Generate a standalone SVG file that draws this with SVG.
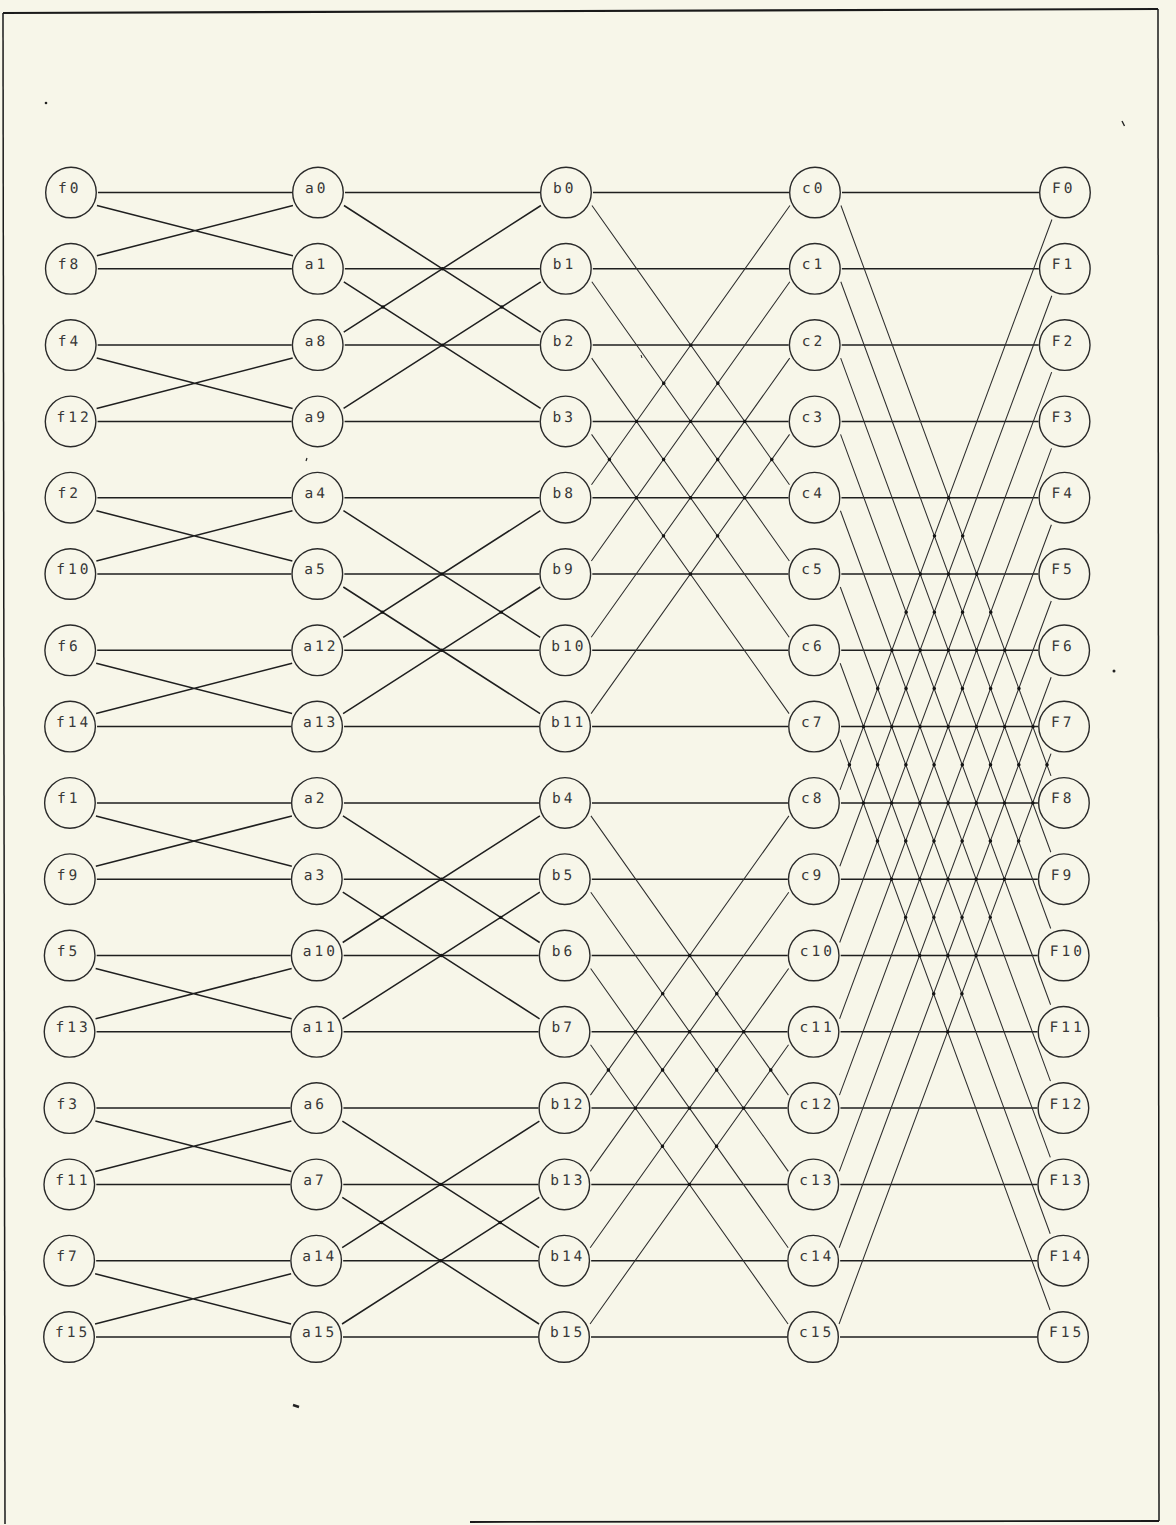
<svg xmlns="http://www.w3.org/2000/svg" width="1176" height="1525" viewBox="0 0 1176 1525">
<style>
.n circle{fill:none;stroke:#2a2a2a;stroke-width:1.4}
.n text{font-family:"DejaVu Sans Mono","Liberation Mono",monospace;font-size:14.5px;letter-spacing:3px;fill:#383838}
.h{fill:none;stroke:#1f1f1f;stroke-width:1.5}
.d1{fill:none;stroke:#1f1f1f;stroke-width:1.5}
.d3{fill:none;stroke:#2e2e2e;stroke-width:1.05}
.dots{fill:none;stroke:#141414;stroke-width:3.4;stroke-linecap:round}
.frame{fill:none;stroke:#1a1a1a}
</style>
<rect x="0" y="0" width="1176" height="1525" fill="#f7f6e9"/>
<g id="frame" class="frame">
<path d="M3 13 L1158 9" stroke-width="2.2"/>
<path d="M3 13 L5 1524" stroke-width="1.5"/>
<path d="M1158 9 L1159 1521" stroke-width="1.5"/>
<path d="M470 1522 L1159 1521" stroke-width="1.8"/>
</g>
<g id="marks" fill="#222" stroke="#222">
<circle cx="46" cy="103" r="1.3" stroke="none"/>
<path d="M1122 121 l2.5 5" stroke-width="1.4" fill="none"/>
<path d="M306 461 l1 -3" stroke-width="1.2" fill="none"/>
<path d="M293 1405 l6 2" stroke-width="2.4" fill="none"/>
<circle cx="1114" cy="671" r="1.5" stroke="none"/>
<path d="M641 355 l1 3" stroke-width="1" fill="none"/>
</g>
<g transform="matrix(1 0 -0.0017 1 1.3 0)">
<g id="connectors">
<g id="stage1">
<path class="h" d="M97 192.5H291M97 268.8H291M97 345.1H291M97 421.4H291M97 497.7H291M97 574H291M97 650.3H291M97 726.6H291M97 802.9H291M97 879.2H291M97 955.5H291M97 1031.8H291M97 1108.1H291M97 1184.4H291M97 1260.7H291M97 1337H291"/>
<path class="d1" d="M96 205.5L292 255.8M96 255.8L292 205.5M96 358.1L292 408.4M96 408.4L292 358.1M96 510.7L292 561M96 561L292 510.7M96 663.3L292 713.6M96 713.6L292 663.3M96 815.9L292 866.2M96 866.2L292 815.9M96 968.5L292 1018.8M96 1018.8L292 968.5M96 1121.1L292 1171.4M96 1171.4L292 1121.1M96 1273.7L292 1324M96 1324L292 1273.7"/>
</g>
<g id="stage2">
<path class="h" d="M344 192.5H539M344 268.8H539M344 345.1H539M344 421.4H539M344 497.7H539M344 574H539M344 650.3H539M344 726.6H539M344 802.9H539M344 879.2H539M344 955.5H539M344 1031.8H539M344 1108.1H539M344 1184.4H539M344 1260.7H539M344 1337H539"/>
<path class="d1" d="M343 205.5L540 332.1M343 332.1L540 205.5M343 281.8L540 408.4M343 408.4L540 281.8M343 510.7L540 637.3M343 637.3L540 510.7M343 587L540 713.6M343 713.6L540 587M343 815.9L540 942.5M343 942.5L540 815.9M343 892.2L540 1018.8M343 1018.8L540 892.2M343 1121.1L540 1247.7M343 1247.7L540 1121.1M343 1197.4L540 1324M343 1324L540 1197.4"/>
</g>
<g id="stage3">
<path class="h" d="M592 192.5H788M592 268.8H788M592 345.1H788M592 421.4H788M592 497.7H788M592 574H788M592 650.3H788M592 726.6H788M592 802.9H788M592 879.2H788M592 955.5H788M592 1031.8H788M592 1108.1H788M592 1184.4H788M592 1260.7H788M592 1337H788"/>
<path class="d3" d="M591 205.5L789 484.7M591 484.7L789 205.5M591 281.8L789 561M591 561L789 281.8M591 358.1L789 637.3M591 637.3L789 358.1M591 434.4L789 713.6M591 713.6L789 434.4M591 815.9L789 1095.1M591 1095.1L789 815.9M591 892.2L789 1171.4M591 1171.4L789 892.2M591 968.5L789 1247.7M591 1247.7L789 968.5M591 1044.8L789 1324M591 1324L789 1044.8"/>
</g>
<g id="stage4">
<path class="h" d="M841 192.5H1038M841 268.8H1038M841 345.1H1038M841 421.4H1038M841 497.7H1038M841 574H1038M841 650.3H1038M841 726.6H1038M841 802.9H1038M841 879.2H1038M841 955.5H1038M841 1031.8H1038M841 1108.1H1038M841 1184.4H1038M841 1260.7H1038M841 1337H1038"/>
<path class="d3" d="M840 205.5L1051 775.9M840 789.9L1051 219.5M840 281.8L1051 852.2M840 866.2L1051 295.8M840 358.1L1051 928.5M840 942.5L1051 372.1M840 434.4L1051 1004.8M840 1018.8L1051 448.4M840 510.7L1051 1081.1M840 1095.1L1051 524.7M840 587L1051 1157.4M840 1171.4L1051 601M840 663.3L1051 1233.7M840 1247.7L1051 677.3M840 739.6L1051 1310M840 1324L1051 753.6"/>
</g>
<path id="junctions" class="dots" d="M441.5 268.8h0.2M441.5 345.1h0.2M500.9 306.95h0.2M382.1 306.95h0.2M441.5 574h0.2M441.5 650.3h0.2M500.9 612.15h0.2M382.1 612.15h0.2M441.5 879.2h0.2M441.5 955.5h0.2M500.9 917.35h0.2M382.1 917.35h0.2M441.5 1184.4h0.2M441.5 1260.7h0.2M500.9 1222.55h0.2M382.1 1222.55h0.2 M690 345.1h0.2M717.1 383.25h0.2M744.1 421.4h0.2M771.2 459.55h0.2M663 383.25h0.2M690 421.4h0.2M717.1 459.55h0.2M744.1 497.7h0.2M635.9 421.4h0.2M663 459.55h0.2M690 497.7h0.2M717.1 535.85h0.2M608.8 459.55h0.2M635.9 497.7h0.2M663 535.85h0.2M690 574h0.2 M690 955.5h0.2M717.1 993.65h0.2M744.1 1031.8h0.2M771.2 1069.95h0.2M663 993.65h0.2M690 1031.8h0.2M717.1 1069.95h0.2M744.1 1108.1h0.2M635.9 1031.8h0.2M663 1069.95h0.2M690 1108.1h0.2M717.1 1146.25h0.2M608.8 1069.95h0.2M635.9 1108.1h0.2M663 1146.25h0.2M690 1184.4h0.2 M948.1 497.7h0.2 M934 535.85h0.2M962.2 535.85h0.2 M919.9 574h0.2M948.1 574h0.2M976.3 574h0.2 M905.8 612.15h0.2M934 612.15h0.2M962.2 612.15h0.2M990.4 612.15h0.2 M891.6 650.3h0.2M919.9 650.3h0.2M948.1 650.3h0.2M976.3 650.3h0.2M1004.5 650.3h0.2 M877.5 688.45h0.2M905.8 688.45h0.2M934 688.45h0.2M962.2 688.45h0.2M990.4 688.45h0.2M1018.7 688.45h0.2 M863.4 726.6h0.2M891.6 726.6h0.2M919.9 726.6h0.2M948.1 726.6h0.2M976.3 726.6h0.2M1004.5 726.6h0.2M1032.8 726.6h0.2 M849.3 764.75h0.2M877.5 764.75h0.2M905.8 764.75h0.2M934 764.75h0.2M962.2 764.75h0.2M990.4 764.75h0.2M1018.7 764.75h0.2M1046.9 764.75h0.2 M863.4 802.9h0.2M891.6 802.9h0.2M919.9 802.9h0.2M948.1 802.9h0.2M976.3 802.9h0.2M1004.5 802.9h0.2M1032.8 802.9h0.2 M877.5 841.05h0.2M905.8 841.05h0.2M934 841.05h0.2M962.2 841.05h0.2M990.4 841.05h0.2M1018.7 841.05h0.2 M891.6 879.2h0.2M919.9 879.2h0.2M948.1 879.2h0.2M976.3 879.2h0.2M1004.5 879.2h0.2 M905.8 917.35h0.2M934 917.35h0.2M962.2 917.35h0.2M990.4 917.35h0.2 M919.9 955.5h0.2M948.1 955.5h0.2M976.3 955.5h0.2 M934 993.65h0.2M962.2 993.65h0.2 M948.1 1031.8h0.2"/>
</g>
<g id="nodes">
<g id="n-f0" class="n"><circle cx="70" cy="192.5" r="25.3"/><text x="57" y="193">f0</text></g>
<g id="n-f8" class="n"><circle cx="70" cy="268.8" r="25.3"/><text x="57" y="269.3">f8</text></g>
<g id="n-f4" class="n"><circle cx="70" cy="345.1" r="25.3"/><text x="57" y="345.6">f4</text></g>
<g id="n-f12" class="n"><circle cx="70" cy="421.4" r="25.3"/><text x="56" y="421.9">f12</text></g>
<g id="n-f2" class="n"><circle cx="70" cy="497.7" r="25.3"/><text x="57" y="498.2">f2</text></g>
<g id="n-f10" class="n"><circle cx="70" cy="574" r="25.3"/><text x="56" y="574.5">f10</text></g>
<g id="n-f6" class="n"><circle cx="70" cy="650.3" r="25.3"/><text x="57" y="650.8">f6</text></g>
<g id="n-f14" class="n"><circle cx="70" cy="726.6" r="25.3"/><text x="56" y="727.1">f14</text></g>
<g id="n-f1" class="n"><circle cx="70" cy="802.9" r="25.3"/><text x="57" y="803.4">f1</text></g>
<g id="n-f9" class="n"><circle cx="70" cy="879.2" r="25.3"/><text x="57" y="879.7">f9</text></g>
<g id="n-f5" class="n"><circle cx="70" cy="955.5" r="25.3"/><text x="57" y="956">f5</text></g>
<g id="n-f13" class="n"><circle cx="70" cy="1031.8" r="25.3"/><text x="56" y="1032.3">f13</text></g>
<g id="n-f3" class="n"><circle cx="70" cy="1108.1" r="25.3"/><text x="57" y="1108.6">f3</text></g>
<g id="n-f11" class="n"><circle cx="70" cy="1184.4" r="25.3"/><text x="56" y="1184.9">f11</text></g>
<g id="n-f7" class="n"><circle cx="70" cy="1260.7" r="25.3"/><text x="57" y="1261.2">f7</text></g>
<g id="n-f15" class="n"><circle cx="70" cy="1337" r="25.3"/><text x="56" y="1337.5">f15</text></g>
<g id="n-a0" class="n"><circle cx="317" cy="192.5" r="25.3"/><text x="304" y="193">a0</text></g>
<g id="n-a1" class="n"><circle cx="317" cy="268.8" r="25.3"/><text x="304" y="269.3">a1</text></g>
<g id="n-a8" class="n"><circle cx="317" cy="345.1" r="25.3"/><text x="304" y="345.6">a8</text></g>
<g id="n-a9" class="n"><circle cx="317" cy="421.4" r="25.3"/><text x="304" y="421.9">a9</text></g>
<g id="n-a4" class="n"><circle cx="317" cy="497.7" r="25.3"/><text x="304" y="498.2">a4</text></g>
<g id="n-a5" class="n"><circle cx="317" cy="574" r="25.3"/><text x="304" y="574.5">a5</text></g>
<g id="n-a12" class="n"><circle cx="317" cy="650.3" r="25.3"/><text x="303" y="650.8">a12</text></g>
<g id="n-a13" class="n"><circle cx="317" cy="726.6" r="25.3"/><text x="303" y="727.1">a13</text></g>
<g id="n-a2" class="n"><circle cx="317" cy="802.9" r="25.3"/><text x="304" y="803.4">a2</text></g>
<g id="n-a3" class="n"><circle cx="317" cy="879.2" r="25.3"/><text x="304" y="879.7">a3</text></g>
<g id="n-a10" class="n"><circle cx="317" cy="955.5" r="25.3"/><text x="303" y="956">a10</text></g>
<g id="n-a11" class="n"><circle cx="317" cy="1031.8" r="25.3"/><text x="303" y="1032.3">a11</text></g>
<g id="n-a6" class="n"><circle cx="317" cy="1108.1" r="25.3"/><text x="304" y="1108.6">a6</text></g>
<g id="n-a7" class="n"><circle cx="317" cy="1184.4" r="25.3"/><text x="304" y="1184.9">a7</text></g>
<g id="n-a14" class="n"><circle cx="317" cy="1260.7" r="25.3"/><text x="303" y="1261.2">a14</text></g>
<g id="n-a15" class="n"><circle cx="317" cy="1337" r="25.3"/><text x="303" y="1337.5">a15</text></g>
<g id="n-b0" class="n"><circle cx="565" cy="192.5" r="25.3"/><text x="552" y="193">b0</text></g>
<g id="n-b1" class="n"><circle cx="565" cy="268.8" r="25.3"/><text x="552" y="269.3">b1</text></g>
<g id="n-b2" class="n"><circle cx="565" cy="345.1" r="25.3"/><text x="552" y="345.6">b2</text></g>
<g id="n-b3" class="n"><circle cx="565" cy="421.4" r="25.3"/><text x="552" y="421.9">b3</text></g>
<g id="n-b8" class="n"><circle cx="565" cy="497.7" r="25.3"/><text x="552" y="498.2">b8</text></g>
<g id="n-b9" class="n"><circle cx="565" cy="574" r="25.3"/><text x="552" y="574.5">b9</text></g>
<g id="n-b10" class="n"><circle cx="565" cy="650.3" r="25.3"/><text x="551" y="650.8">b10</text></g>
<g id="n-b11" class="n"><circle cx="565" cy="726.6" r="25.3"/><text x="551" y="727.1">b11</text></g>
<g id="n-b4" class="n"><circle cx="565" cy="802.9" r="25.3"/><text x="552" y="803.4">b4</text></g>
<g id="n-b5" class="n"><circle cx="565" cy="879.2" r="25.3"/><text x="552" y="879.7">b5</text></g>
<g id="n-b6" class="n"><circle cx="565" cy="955.5" r="25.3"/><text x="552" y="956">b6</text></g>
<g id="n-b7" class="n"><circle cx="565" cy="1031.8" r="25.3"/><text x="552" y="1032.3">b7</text></g>
<g id="n-b12" class="n"><circle cx="565" cy="1108.1" r="25.3"/><text x="551" y="1108.6">b12</text></g>
<g id="n-b13" class="n"><circle cx="565" cy="1184.4" r="25.3"/><text x="551" y="1184.9">b13</text></g>
<g id="n-b14" class="n"><circle cx="565" cy="1260.7" r="25.3"/><text x="551" y="1261.2">b14</text></g>
<g id="n-b15" class="n"><circle cx="565" cy="1337" r="25.3"/><text x="551" y="1337.5">b15</text></g>
<g id="n-c0" class="n"><circle cx="814" cy="192.5" r="25.3"/><text x="801" y="193">c0</text></g>
<g id="n-c1" class="n"><circle cx="814" cy="268.8" r="25.3"/><text x="801" y="269.3">c1</text></g>
<g id="n-c2" class="n"><circle cx="814" cy="345.1" r="25.3"/><text x="801" y="345.6">c2</text></g>
<g id="n-c3" class="n"><circle cx="814" cy="421.4" r="25.3"/><text x="801" y="421.9">c3</text></g>
<g id="n-c4" class="n"><circle cx="814" cy="497.7" r="25.3"/><text x="801" y="498.2">c4</text></g>
<g id="n-c5" class="n"><circle cx="814" cy="574" r="25.3"/><text x="801" y="574.5">c5</text></g>
<g id="n-c6" class="n"><circle cx="814" cy="650.3" r="25.3"/><text x="801" y="650.8">c6</text></g>
<g id="n-c7" class="n"><circle cx="814" cy="726.6" r="25.3"/><text x="801" y="727.1">c7</text></g>
<g id="n-c8" class="n"><circle cx="814" cy="802.9" r="25.3"/><text x="801" y="803.4">c8</text></g>
<g id="n-c9" class="n"><circle cx="814" cy="879.2" r="25.3"/><text x="801" y="879.7">c9</text></g>
<g id="n-c10" class="n"><circle cx="814" cy="955.5" r="25.3"/><text x="800" y="956">c10</text></g>
<g id="n-c11" class="n"><circle cx="814" cy="1031.8" r="25.3"/><text x="800" y="1032.3">c11</text></g>
<g id="n-c12" class="n"><circle cx="814" cy="1108.1" r="25.3"/><text x="800" y="1108.6">c12</text></g>
<g id="n-c13" class="n"><circle cx="814" cy="1184.4" r="25.3"/><text x="800" y="1184.9">c13</text></g>
<g id="n-c14" class="n"><circle cx="814" cy="1260.7" r="25.3"/><text x="800" y="1261.2">c14</text></g>
<g id="n-c15" class="n"><circle cx="814" cy="1337" r="25.3"/><text x="800" y="1337.5">c15</text></g>
<g id="n-F0" class="n"><circle cx="1064" cy="192.5" r="25.3"/><text x="1051" y="193">F0</text></g>
<g id="n-F1" class="n"><circle cx="1064" cy="268.8" r="25.3"/><text x="1051" y="269.3">F1</text></g>
<g id="n-F2" class="n"><circle cx="1064" cy="345.1" r="25.3"/><text x="1051" y="345.6">F2</text></g>
<g id="n-F3" class="n"><circle cx="1064" cy="421.4" r="25.3"/><text x="1051" y="421.9">F3</text></g>
<g id="n-F4" class="n"><circle cx="1064" cy="497.7" r="25.3"/><text x="1051" y="498.2">F4</text></g>
<g id="n-F5" class="n"><circle cx="1064" cy="574" r="25.3"/><text x="1051" y="574.5">F5</text></g>
<g id="n-F6" class="n"><circle cx="1064" cy="650.3" r="25.3"/><text x="1051" y="650.8">F6</text></g>
<g id="n-F7" class="n"><circle cx="1064" cy="726.6" r="25.3"/><text x="1051" y="727.1">F7</text></g>
<g id="n-F8" class="n"><circle cx="1064" cy="802.9" r="25.3"/><text x="1051" y="803.4">F8</text></g>
<g id="n-F9" class="n"><circle cx="1064" cy="879.2" r="25.3"/><text x="1051" y="879.7">F9</text></g>
<g id="n-F10" class="n"><circle cx="1064" cy="955.5" r="25.3"/><text x="1050" y="956">F10</text></g>
<g id="n-F11" class="n"><circle cx="1064" cy="1031.8" r="25.3"/><text x="1050" y="1032.3">F11</text></g>
<g id="n-F12" class="n"><circle cx="1064" cy="1108.1" r="25.3"/><text x="1050" y="1108.6">F12</text></g>
<g id="n-F13" class="n"><circle cx="1064" cy="1184.4" r="25.3"/><text x="1050" y="1184.9">F13</text></g>
<g id="n-F14" class="n"><circle cx="1064" cy="1260.7" r="25.3"/><text x="1050" y="1261.2">F14</text></g>
<g id="n-F15" class="n"><circle cx="1064" cy="1337" r="25.3"/><text x="1050" y="1337.5">F15</text></g>
</g>
</g>
</svg>
